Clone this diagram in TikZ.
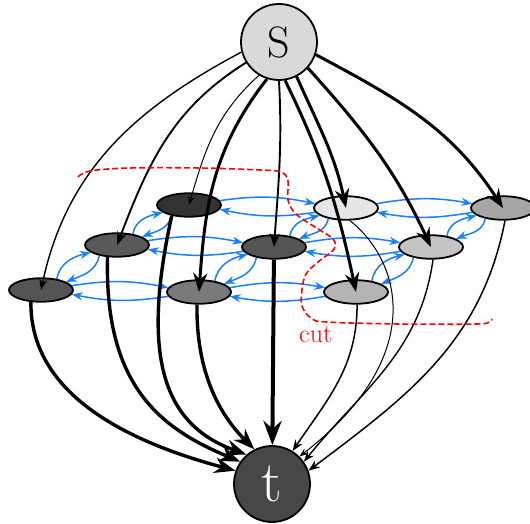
\documentclass[tikz,border=0pt]{standalone}
\usetikzlibrary{shapes.geometric,arrows.meta}
\definecolor{flowblue}{RGB}{24,128,255}
\definecolor{sgray}{HTML}{D9D9D9}
\definecolor{tgray}{HTML}{474747}
\definecolor{cA1}{HTML}{333333}
\definecolor{cA2}{HTML}{E6E6E6}
\definecolor{cA3}{HTML}{A6A6A6}
\definecolor{cB1}{HTML}{595959}
\definecolor{cB2}{HTML}{555555}
\definecolor{cB3}{HTML}{C4C4C4}
\definecolor{cC1}{HTML}{545454}
\definecolor{cC2}{HTML}{7A7A7A}
\definecolor{cC3}{HTML}{B4B4B4}
\begin{document}
\begin{tikzpicture}[x=1pt,y=1pt,
  term/.style={circle,draw,line width=1.8pt,minimum size=76pt,inner sep=0pt},
  cell/.style={ellipse,draw,line width=1.8pt,minimum width=64pt,minimum height=23.5pt,inner sep=0pt},
  flow/.style={draw=flowblue,line width=1.5pt,-{Stealth[scale=1.1]}},
  feed/.style={draw,line width=#1,-{Stealth[scale=1.15]}},
  cutline/.style={draw=red,line width=1.6pt,dash pattern=on 6pt off 3pt}]
\useasboundingbox (0,0) rectangle (530,-524);

\node[term,fill=sgray,font=\fontsize{44}{44}\selectfont] (s) at (279,-42) {S};
\node[term,fill=tgray,text=white,font=\fontsize{58}{58}\selectfont] (t) at (272,-484) {t};

\node[cell,fill=cA1] (A1) at (189,-205) {};
\node[cell,fill=cA2] (A2) at (346,-208) {};
\node[cell,fill=cA3] (A3) at (503,-208) {};
\node[cell,fill=cB1] (B1) at (117,-245) {};
\node[cell,fill=cB2] (B2) at (274,-247) {};
\node[cell,fill=cB3] (B3) at (431,-247) {};
\node[cell,fill=cC1] (C1) at (41,-290) {};
\node[cell,fill=cC2] (C2) at (199,-292) {};
\node[cell,fill=cC3] (C3) at (356,-292) {};

% residual arcs
\foreach \l/\r in {A1/A2,A2/A3,B1/B2,B2/B3,C1/C2,C2/C3}{
  \draw[flow] (\l.8) to[bend left=10] (\r.172);
  \draw[flow] (\r.188) to[bend left=10] (\l.-8);
}
\foreach \p/\q in {C1/B1,B1/A1,C2/B2,B2/A2,C3/B3,B3/A3}{
  \draw[flow] (\p.35) to[out=80,in=193] (\q.196);
  \draw[flow] (\q.211) to[out=-101,in=22] (\p.18);
}

% edges into t
\draw[feed=3.4pt] (C1.230) .. controls (30,-400) and (140,-445) .. (t.160);
\draw[feed=3.4pt] (B1.232) .. controls (104,-390) and (165,-430) .. (t.145);
\draw[feed=3.4pt] (A1.212) .. controls (140,-360) and (165,-425) .. (t.131);
\draw[feed=3.4pt] (C2.261) .. controls (196,-380) and (225,-420) .. (t.117);
\draw[feed=4pt] (B2) -- (t);
\draw[feed=1.5pt] (C3.275) to[out=-90,in=56] (t.58);
\draw[feed=1pt] (A2.287) .. controls (400,-260) and (430,-355) .. (t.45);
\draw[feed=1.4pt] (B3.279) to[out=-98,in=51] (t.35);
\draw[feed=1.5pt] (A3.279) to[out=-101,in=37] (t.20);

% edges out of s
\draw[feed=1.4pt] (s.195) to[out=208,in=78] (C1.center);
\draw[feed=1.9pt] (s.212) to[out=212,in=69] (B1.center);
\draw[feed=1pt] (s.239) to[out=222,in=74] (A1.center);
\draw[feed=3pt] (s.252) to[out=232,in=86] (C2.center);
\draw[feed=1.9pt] (s.270) to[out=-87,in=86] (B2.center);
\draw[feed=3pt] (s.279) to[out=-64,in=102] (C3.center);
\draw[feed=3pt] (s.297) to[out=-66,in=102] (A2.center);
\draw[feed=3pt] (s.318) to[out=-48,in=115] (B3.center);
\draw[feed=3pt] (s.341) to[out=-28,in=123] (A3.center);

% the cut
\draw[cutline] plot[smooth,tension=0.6] coordinates {(78,-177) (90,-171) (130,-168) (200,-168) (260,-170) (281,-172) (288,-181) (288,-200) (296,-214) (318,-229) (333,-239) (334,-249) (318,-262) (306,-274) (302,-290) (302,-306) (311,-318) (327,-322) (400,-324) (476,-324) (489,-322) (492,-319)};
\node[text=red,font=\fontsize{26}{26}\selectfont,anchor=base west,inner sep=0pt] (cutlabel) at (299,-342) {cut};
\end{tikzpicture}
\end{document}
